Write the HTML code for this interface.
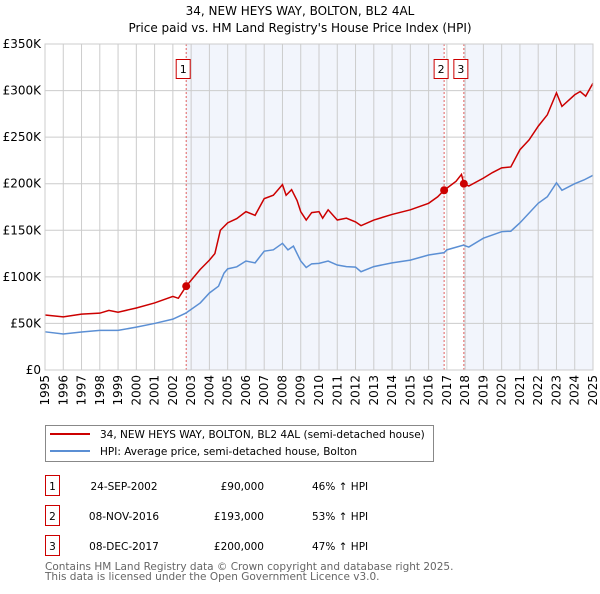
<!DOCTYPE html>
<html><head><meta charset="utf-8"><style>
body{margin:0;background:#fff;font-family:"DejaVu Sans","Liberation Sans",sans-serif;}
svg text{font-family:"DejaVu Sans","Liberation Sans",sans-serif;}
</style></head><body>
<svg id="c" width="600" height="590" xmlns="http://www.w3.org/2000/svg"></svg>
<script>
const hpiYears=[1995,1996,1997,1998,1999,2000,2001,2002,2002.7,2003.5,2004,2004.5,2004.8,2005,2005.5,2006,2006.5,2007,2007.5,2008,2008.3,2008.6,2009,2009.3,2009.6,2010,2010.5,2011,2011.5,2012,2012.3,2013,2014,2015,2016,2016.85,2017,2017.9,2018.2,2019,2020,2020.5,2021,2022,2022.5,2023,2023.3,2024,2024.5,2025];
const hpiValues=[41,38.6,40.8,42.5,42.5,46,50,54.6,61,72,82.7,90,104,108.6,110.8,117,115,127.6,129,136,129,133,117,110,114,114.5,117,112.7,111,110.5,105.5,111,115,118,123.5,126,129,134,132,141.5,148.5,149,158,179,186,201,193,200,204,209];
const priceYears=[1995,1996,1997,1998,1998.5,1999,2000,2001,2002,2002.3,2002.73,2003.5,2004,2004.3,2004.6,2005,2005.5,2006,2006.5,2007,2007.5,2008,2008.2,2008.5,2008.8,2009,2009.3,2009.6,2010,2010.2,2010.5,2011,2011.5,2012,2012.3,2013,2014,2015,2016,2016.5,2016.85,2017.5,2017.8,2017.93,2018.2,2019,2019.5,2020,2020.5,2021,2021.5,2022,2022.5,2023,2023.3,2024,2024.3,2024.6,2025];
const priceValues=[59,57,60,61,64,62,66.6,72,79,77,90,108,118,125,150,158,162.6,170,166,184,187.6,199,187.6,193.6,182,170,161,169,170,163,172,161,163,159,155,161,167,172,179,186,193,202.6,210,200,197.5,206,212,217,218,236.5,247,261.7,274,297.6,283,295.5,299,294,308];
const saleLabels=["1","2","3"];
const saleYears=[2002.73,2016.85,2017.93];
const salePrices=[90,193,200];
const yTicks=[0,50,100,150,200,250,300,350];
const yTickLabels=["£0","£50K","£100K","£150K","£200K","£250K","£300K","£350K"];
const xTicks=[1995,1996,1997,1998,1999,2000,2001,2002,2003,2004,2005,2006,2007,2008,2009,2010,2011,2012,2013,2014,2015,2016,2017,2018,2019,2020,2021,2022,2023,2024,2025];

const NS="http://www.w3.org/2000/svg";
const svg=document.getElementById('c');
const L=45,R=593,T=44,B=370;
const xs=y=>L+(y-1995)/30*(R-L);
const ys=v=>B-v/350*(B-T);
function el(tag,attrs,parent){const e=document.createElementNS(NS,tag);for(const k in attrs)e.setAttribute(k,attrs[k]);(parent||svg).appendChild(e);return e;}
function txt(s,attrs){const e=el('text',attrs);e.textContent=s;return e;}

let t=txt("34, NEW HEYS WAY, BOLTON, BL2 4AL",{x:300,y:15,'text-anchor':'middle','font-size':12,fill:'#000'});

t=txt("Price paid vs. HM Land Registry's House Price Index (HPI)",{x:300,y:32,'text-anchor':'middle','font-size':12,fill:'#000'});


let r=el('rect',{x:xs(saleYears[0]),y:T,width:xs(saleYears[1])-xs(saleYears[0]),height:B-T,fill:'#f2f5fc'});

r=el('rect',{x:xs(saleYears[2]),y:T,width:R-xs(saleYears[2]),height:B-T,fill:'#f2f5fc'});


xTicks.forEach(y=>{let g=el('line',{x1:xs(y),x2:xs(y),y1:T,y2:B,stroke:'#ccc','stroke-width':1});

let l=txt(String(y),{transform:`translate(${xs(y)+4},${B+5}) rotate(-90)`,'text-anchor':'end','font-size':12,fill:'#000'});
});
yTicks.forEach((v,i)=>{let g=el('line',{x1:L,x2:R,y1:ys(v),y2:ys(v),stroke:'#ccc','stroke-width':1});

let l=txt(yTickLabels[i],{x:L-4,y:ys(v)+4,'text-anchor':'end','font-size':12,fill:'#000'});
});

saleYears.forEach((y,i)=>{let d=el('line',{x1:xs(y),x2:xs(y),y1:T,y2:B,stroke:'#e06060','stroke-width':1,'stroke-dasharray':'2,2'});

let b=el('rect',{x:xs(y)-10,y:59.5,width:14,height:19,fill:'#fff',stroke:'#c00','stroke-width':1});

let l=txt(saleLabels[i],{x:xs(y)-3,y:73,'text-anchor':'middle','font-size':11,fill:'#000'});
});

let p=el('polyline',{points:hpiYears.map((y,i)=>xs(y)+','+ys(hpiValues[i])).join(' '),fill:'none',stroke:'#5b8fd4','stroke-width':1.5});

p=el('polyline',{points:priceYears.map((y,i)=>xs(y)+','+ys(priceValues[i])).join(' '),fill:'none',stroke:'#cc0000','stroke-width':1.5});

saleYears.forEach((y,i)=>{let c=el('circle',{cx:xs(y),cy:ys(salePrices[i]),r:4,fill:'#cc0000'});
});

let ax=el('rect',{x:L,y:T,width:R-L,height:B-T,fill:'none',stroke:'#ccc'});


let lg=el('rect',{x:45.5,y:425.5,width:388,height:36,fill:'#fff',stroke:'#888'});

let ll=el('line',{x1:50,x2:90,y1:434,y2:434,stroke:'#cc0000','stroke-width':2});

ll=el('line',{x1:50,x2:90,y1:451,y2:451,stroke:'#5b8fd4','stroke-width':2});

t=txt("34, NEW HEYS WAY, BOLTON, BL2 4AL (semi-detached house)",{x:100,y:438,'font-size':10.5,fill:'#000'});

t=txt("HPI: Average price, semi-detached house, Bolton",{x:100,y:455,'font-size':10.5,fill:'#000'});


const dates=["24-SEP-2002","08-NOV-2016","08-DEC-2017"];
const prices=["£90,000","£193,000","£200,000"];
const pcts=["46% ↑ HPI","53% ↑ HPI","47% ↑ HPI"];
[0,1,2].forEach(i=>{const yy=475+i*30;
let b=el('rect',{x:45.5,y:yy+0.5,width:14,height:20,fill:'#fff',stroke:'#c00'});

let a=txt(saleLabels[i],{x:52.5,y:yy+15,'text-anchor':'middle','font-size':10.5,fill:'#000'});

a=txt(dates[i],{x:124,y:yy+15,'text-anchor':'middle','font-size':10.5,fill:'#000'});

a=txt(prices[i],{x:264,y:yy+15,'text-anchor':'end','font-size':10.5,fill:'#000'});

a=txt(pcts[i],{x:312,y:yy+15,'font-size':10.5,fill:'#000'});
});

t=txt("Contains HM Land Registry data © Crown copyright and database right 2025.",{x:45,y:570,'font-size':10.5,fill:'#666'});

t=txt("This data is licensed under the Open Government Licence v3.0.",{x:45,y:580,'font-size':10.5,fill:'#666'});

</script>
</body></html>
